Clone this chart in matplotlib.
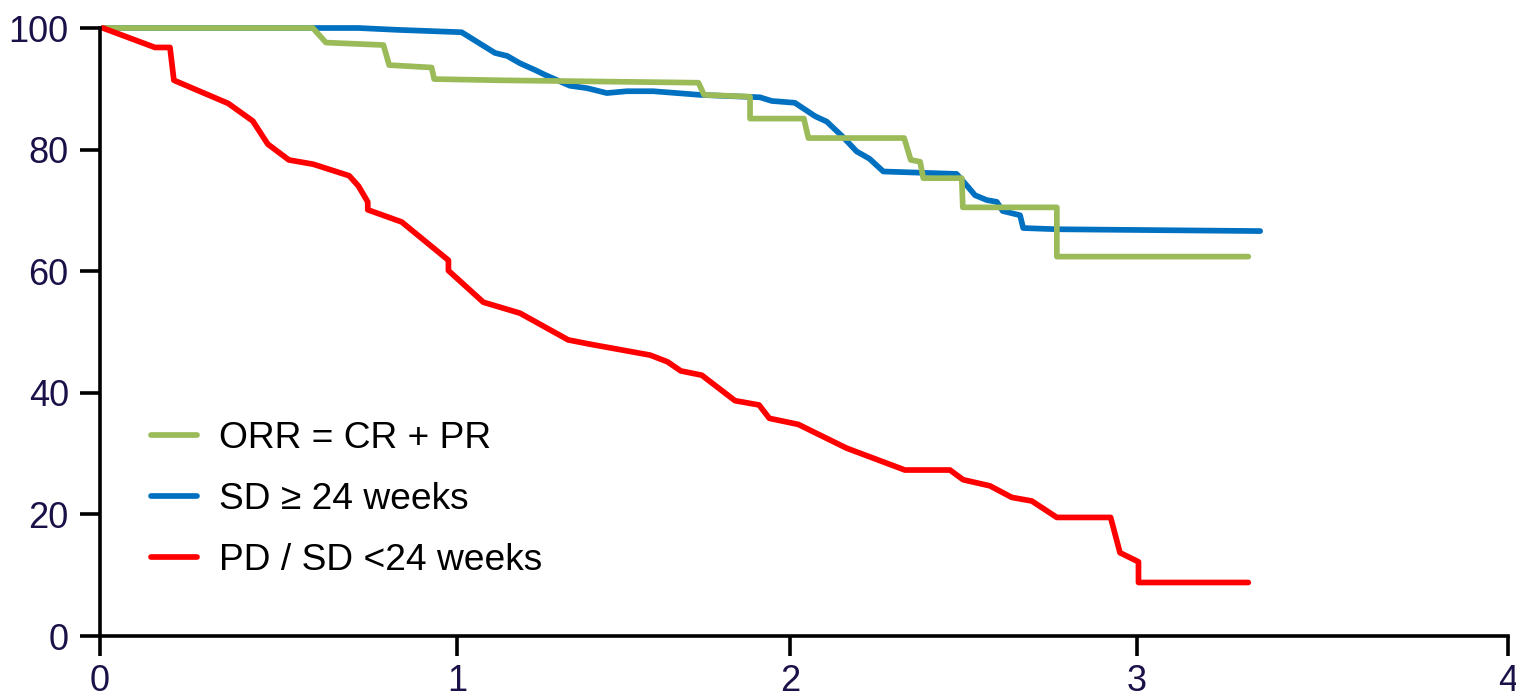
import numpy as np
import matplotlib
matplotlib.use("Agg")
import matplotlib.pyplot as plt

plt.rcParams['font.family'] = ['Liberation Sans', 'DejaVu Sans']

# x ticks in the original are not evenly spaced: 0..4 mapped onto this layout
tick_vals = [0, 1, 2, 3, 4]
tick_pos = [0, 357, 690, 1037, 1408]

# ORR = CR + PR
orr_x = [0.008, 0.596, 0.633, 0.794, 0.810, 0.929, 0.936, 1.129, 1.725, 1.742, 1.880, 1.880,
         2.040, 2.053, 2.329, 2.348, 2.375, 2.384, 2.495, 2.498, 2.769, 2.769, 3.300]
orr_y = [100, 100, 97.6, 97.2, 93.9, 93.5, 91.6, 91.4, 91.0, 89.0, 88.7, 85.1,
         85.1, 81.9, 81.9, 78.3, 78.0, 75.3, 75.3, 70.5, 70.5, 62.4, 62.4]

# SD >= 24 weeks
sd_x = [0.008, 0.724, 0.831, 1.014, 1.114, 1.151, 1.189, 1.234, 1.264, 1.339, 1.391, 1.450,
        1.510, 1.589, 1.730, 1.910, 1.945, 2.014, 2.072, 2.106, 2.154, 2.192, 2.229, 2.269,
        2.480, 2.514, 2.533, 2.567, 2.596, 2.613, 2.663, 2.672, 2.769, 3.332]
sd_y = [100, 100, 99.7, 99.3, 95.9, 95.4, 94.2, 93.1, 92.3, 90.5, 90.1, 89.3,
        89.6, 89.6, 89.0, 88.6, 88.0, 87.7, 85.5, 84.6, 82.0, 79.7, 78.5, 76.4,
        76.0, 73.8, 72.5, 71.7, 71.4, 69.9, 69.2, 67.1, 66.9, 66.6]

# PD / SD < 24 weeks
pd_x = [0.008, 0.154, 0.196, 0.207, 0.359, 0.428, 0.470, 0.529, 0.597, 0.698, 0.724, 0.750,
        0.750, 0.845, 0.976, 0.976, 1.079, 1.189, 1.334, 1.399, 1.580, 1.632, 1.672, 1.735,
        1.835, 1.907, 1.938, 2.024, 2.163, 2.331, 2.461, 2.499, 2.576, 2.639, 2.697, 2.769,
        2.924, 2.951, 3.004, 3.004, 3.300]
pd_y = [100, 96.8, 96.8, 91.4, 87.6, 84.7, 80.9, 78.3, 77.6, 75.7, 74.0, 71.4,
        70.1, 68.1, 61.8, 60.1, 54.9, 53.1, 48.7, 48.0, 46.2, 45.1, 43.6, 42.9,
        38.7, 38.0, 35.8, 34.8, 30.9, 27.3, 27.3, 25.7, 24.7, 22.8, 22.2, 19.5,
        19.5, 13.7, 12.2, 8.8, 8.8]

labels = ['ORR = CR + PR', 'SD \u2265 24 weeks', 'PD / SD <24 weeks']
colors = ['#9bbb59', '#0070c0', '#ff0000']


def fwd(x):
    return np.interp(x, tick_vals, tick_pos)


def inv(p):
    return np.interp(p, tick_pos, tick_vals)


fig = plt.figure(figsize=(15.16, 6.97), dpi=100)
ax = fig.add_axes([100 / 1516, 61 / 697, 1408 / 1516, 608 / 697])
ax.set_xscale('function', functions=(fwd, inv))

kw = dict(lw=4.1, solid_joinstyle='round', solid_capstyle='round', clip_on=False)
l_sd, = ax.plot(sd_x, sd_y, color=colors[1], **kw)
l_orr, = ax.plot(orr_x, orr_y, color=colors[0], **kw)
l_pd, = ax.plot(pd_x, pd_y, color=colors[2], **kw)

ax.set_xlim(0, 4)
ax.set_ylim(0, 100)
ax.set_xticks(tick_vals)
ax.set_yticks([0, 20, 40, 60, 80, 100])
ax.xaxis.set_minor_locator(matplotlib.ticker.NullLocator())

for s in ['top', 'right']:
    ax.spines[s].set_visible(False)
for s in ['left', 'bottom']:
    ax.spines[s].set_linewidth(2.6)
ax.tick_params(axis='both', direction='out', length=14.5, width=2.6,
               labelsize=26, labelcolor='#1c1048')
ax.tick_params(axis='y', pad=8)
ax.tick_params(axis='x', pad=6)

leg = ax.legend([l_orr, l_sd, l_pd], labels, loc='upper left',
                bbox_to_anchor=(0.036, 0.354), frameon=False, fontsize=26.7,
                handlelength=1.25, handletextpad=0.58, labelspacing=0.7,
                borderpad=0, borderaxespad=0)

fig.savefig('out.png', dpi=100)
